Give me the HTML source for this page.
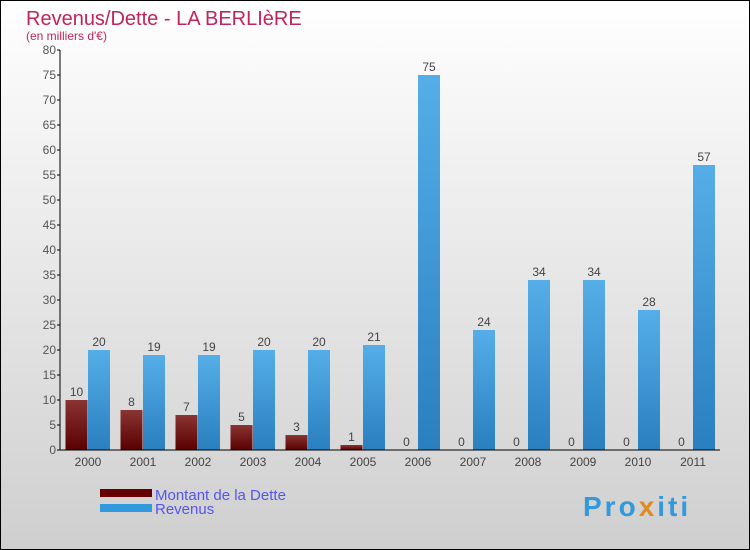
<!DOCTYPE html>
<html><head><meta charset="utf-8"><style>
body{margin:0}
svg{display:block;font-family:"Liberation Sans",sans-serif}
</style></head><body>
<svg id="chart" width="750" height="550" xmlns="http://www.w3.org/2000/svg">
<defs>
<linearGradient id="bg" x1="0" y1="0" x2="0" y2="1"><stop offset="0" stop-color="#ffffff"/><stop offset="1" stop-color="#cfcfcf"/></linearGradient>
<linearGradient id="gd" x1="0" y1="0" x2="0" y2="1"><stop offset="0" stop-color="#8a3434"/><stop offset="1" stop-color="#5a0000"/></linearGradient>
<linearGradient id="gr" x1="0" y1="0" x2="0" y2="1"><stop offset="0" stop-color="#55aee8"/><stop offset="1" stop-color="#2a7fbf"/></linearGradient>
</defs>
<rect x="0.5" y="0.5" width="749" height="549" fill="url(#bg)" stroke="#000"/>
<text x="26" y="25" font-size="20" fill="#c0245c">Revenus/Dette - LA BERLIèRE</text>
<text x="26" y="40" font-size="12" fill="#c0245c">(en milliers d'€)</text>
<g id="plot"></g>
<g>
<rect x="100" y="489" width="52" height="8" fill="#660000"/>
<text x="155" y="500" font-size="15" fill="#5555ee">Montant de la Dette</text>
<rect x="100" y="504" width="52" height="8" fill="#3399dd"/>
<text x="155" y="514" font-size="15" fill="#5555ee">Revenus</text>
</g>
<text x="583" y="516" font-size="28" font-weight="bold" letter-spacing="3" fill="#3399dd">Pro<tspan fill="#e08a20">x</tspan>iti</text>
</svg>
<script>
const years=["2000","2001","2002","2003","2004","2005","2006","2007","2008","2009","2010","2011"];
const dette=[10,8,7,5,3,1,0,0,0,0,0,0];
const revenus=[20,19,19,20,20,21,75,24,34,34,28,57];
const yTicks=[0,5,10,15,20,25,30,35,40,45,50,55,60,65,70,75,80];
const NS="http://www.w3.org/2000/svg";
const g=document.getElementById('plot');
const x0=60,cw=55,yb=450,yt=50,ymax=80;
const y=v=>yb-(v/ymax)*(yb-yt);
function mk(t,a,txt){const e=document.createElementNS(NS,t);for(const k in a)e.setAttribute(k,a[k]);if(txt!==undefined)e.textContent=txt;g.appendChild(e);return e;}
yTicks.forEach(v=>{
 const l=mk('line',{x1:x0-3,x2:x0,y1:y(v),y2:y(v),stroke:'#000'});
 
 
 const t=mk('text',{x:x0-4,y:y(v)+4,'font-size':12,fill:'#555','text-anchor':'end'},v);
 
 
});
years.forEach((yr,i)=>{
 const cx=x0+i*cw;
 const bd=mk('rect',{x:cx+5.5,y:y(dette[i]),width:22,height:yb-y(dette[i]),fill:'url(#gd)'});
 
 
 const br=mk('rect',{x:cx+28,y:y(revenus[i]),width:22,height:yb-y(revenus[i]),fill:'url(#gr)'});
 
 
 const ld=mk('text',{x:cx+16.5,y:y(dette[i])-4,'font-size':12,fill:'#444','text-anchor':'middle'},dette[i]);
 
 
 const lr=mk('text',{x:cx+39,y:y(revenus[i])-4,'font-size':12,fill:'#444','text-anchor':'middle'},revenus[i]);
 
 
 const xl=mk('text',{x:cx+28,y:466,'font-size':12,fill:'#444','text-anchor':'middle'},yr);
 
 
});
const ya=mk('line',{x1:x0,x2:x0,y1:yt,y2:yb,stroke:'#000'});


const xa=mk('line',{x1:x0,x2:x0+12*cw,y1:yb,y2:yb,stroke:'#000'});


</script>
</body></html>
